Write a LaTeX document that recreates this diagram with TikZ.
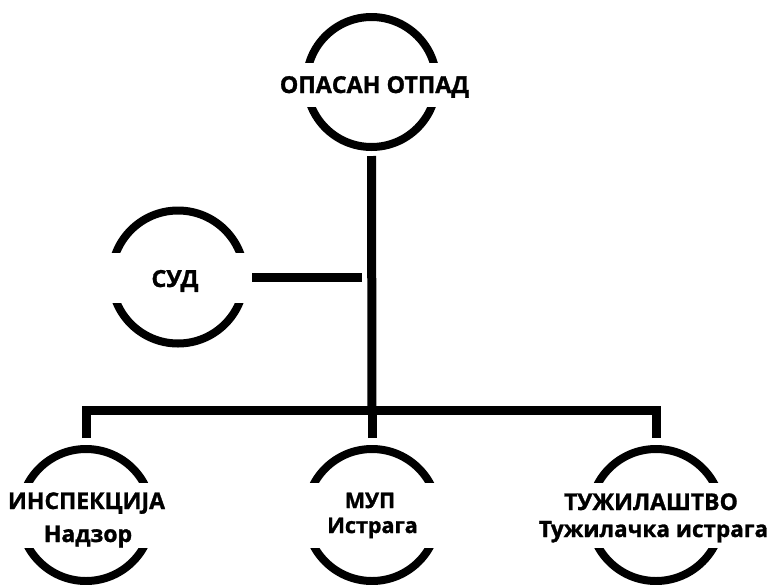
\documentclass[tikz,border=0pt]{standalone}
\usepackage{fontspec}
\setmainfont{Open Sans}[BoldFeatures={FakeBold=1.3}]
\begin{document}
\begin{tikzpicture}[x=1pt,y=-1pt,
  circ/.style={draw=black, line width=8pt, circle, inner sep=0pt, minimum size=#1},
  conn/.style={draw=black, line width=9pt, line join=miter},
  band/.style={fill=white, draw=none},
  lbl/.style={anchor=base, inner sep=0pt, font=\bfseries\fontsize{#1}{#1}\selectfont},
]
\useasboundingbox (0,0) rectangle (771,584);
\clip (0,0) rectangle (771,584);
% circles
\node[circ=130pt] (top) at (371.5,82) {};
\node[circ=133pt] (sud) at (178,277) {};
\node[circ=132pt] (insp) at (86,515) {};
\node[circ=132pt] (mup) at (372,515) {};
\node[circ=132pt] (tuz) at (656,515) {};
% white bands that break the circles
\fill[band] (290,63) rectangle (455,107);
\fill[band] (95,253) rectangle (262,303);
\fill[band] (0,483) rectangle (771,548);
% connectors
\coordinate (bar) at (372,410);
\draw[conn, shorten <=5pt] (top.south) -- (bar);
\draw[conn, shorten <=3.5pt, shorten >=10pt] (sud.east) -- (sud.east -| bar);
\draw[conn, shorten <=7pt, shorten >=7pt] (insp.north) |- (bar) -| (tuz.north);
\draw[conn, shorten <=7pt] (mup.north) -- (bar);
% labels
\node[lbl=23.3pt] (ttop) at (374.5,93) {ОПАСАН ОТПАД};
\node[lbl=23.5pt] (tsud) at (175,287) {СУД};
\node[lbl=23pt] (tinsp1) at (86.5,509) {ИНСПЕКЦИЈА};
\node[lbl=23pt] (tinsp2) at (88,542) {Надзор};
\node[lbl=21.5pt] (tmup1) at (370,508) {МУП};
\node[lbl=21.5pt] (tmup2) at (372.5,533) {Истрага};
\node[lbl=23pt] (ttuz1) at (651,510) {ТУЖИЛАШТВО};
\node[lbl=22.5pt] (ttuz2) at (653.5,537) {Тужилачка истрага};
\end{tikzpicture}
\end{document}
